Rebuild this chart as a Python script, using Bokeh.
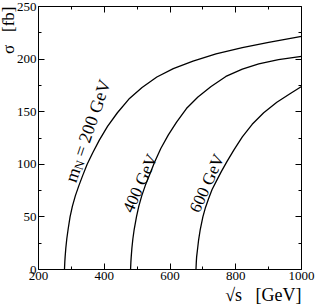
from bokeh.plotting import figure
from bokeh.models import Range1d, FixedTicker, LinearAxis, Label, Title, CustomJSTickFormatter
from bokeh.embed import file_html
from bokeh.resources import INLINE
import math

# sqrt(s) [GeV] and cross-section sigma [fb]
s_200 = [279, 280, 281, 283, 286, 290, 296, 303, 312, 322, 334, 348, 365, 385, 410, 440, 475, 515, 560, 610, 670, 740, 820, 900, 1000]
sig_200 = [0, 7, 12, 20, 29, 38, 50, 60, 70, 79, 89, 100, 111, 123, 136, 149, 162, 173, 183, 191, 198, 205, 211, 216, 221.5]

s_400 = [480, 481, 482, 484, 487, 491, 498, 505, 514, 525, 538, 553, 572, 595, 620, 650, 685, 725, 770, 820, 870, 930, 1000]
sig_400 = [0, 7, 12, 20, 29, 38, 50, 60, 70, 80, 90, 102, 115, 128, 140, 153, 164, 174, 183.5, 190.5, 195.5, 199.5, 202.5]

s_600 = [679, 680, 681, 684, 687, 692, 700, 708, 717, 728, 741, 756, 774, 795, 820, 850, 885, 925, 965, 1000]
sig_600 = [0, 7, 12, 20, 28, 38, 50, 59, 67, 76, 84, 93, 103, 114, 126, 138, 149, 159, 167, 174]

x_ticks = [200, 400, 600, 800, 1000]
x_minor = [300, 500, 700, 900]
y_ticks = [0, 50, 100, 150, 200, 250]
y_minor = [25, 75, 125, 175, 225]

FONT = "Liberation Serif"
NB = "\u00a0"

p = figure(width=316, height=306, output_backend="svg", toolbar_location=None,
           x_range=Range1d(200, 1000), y_range=Range1d(0, 250),
           min_border_left=38, min_border_right=15, min_border_top=6, min_border_bottom=37,
           background_fill_color="white", border_fill_color="white")
p.outline_line_color = None
p.grid.visible = False

def style_axis(ax, ticks, minor, labels=True):
    ax.ticker = FixedTicker(ticks=ticks, minor_ticks=minor)
    ax.major_tick_in = 6
    ax.major_tick_out = 0
    ax.minor_tick_in = 3
    ax.minor_tick_out = 0
    ax.axis_line_color = "black"
    ax.axis_line_width = 1
    ax.major_tick_line_color = "black"
    ax.minor_tick_line_color = "black"
    ax.major_label_text_font = FONT
    ax.major_label_text_font_size = "13px"
    ax.major_label_text_color = "black"
    ax.major_label_standoff = 2
    if not labels:
        ax.formatter = CustomJSTickFormatter(code="return ''")
        ax.major_label_standoff = 0

style_axis(p.xaxis[0], x_ticks, x_minor)
style_axis(p.yaxis[0], y_ticks, y_minor)

top = LinearAxis()
style_axis(top, x_ticks, x_minor, labels=False)
p.add_layout(top, "above")
right = LinearAxis()
style_axis(right, y_ticks, y_minor, labels=False)
p.add_layout(right, "right")

# axis titles
p.add_layout(Title(text="\u221as" + NB * 3 + "[GeV]", align="right", standoff=0,
                   text_font=FONT, text_font_size="18px", text_font_style="normal",
                   text_color="black"), "below")
p.add_layout(Title(text="\u03c3" + NB * 3 + "[fb]", align="right", standoff=-8,
                   text_font=FONT, text_font_size="17px", text_font_style="normal",
                   text_color="black"), "left")

for xs, ys in [(s_200, sig_200), (s_400, sig_400), (s_600, sig_600)]:
    p.line(xs, ys, line_color="black", line_width=1.3)

def lab(x, y, text, size, angle=0, xo=0, yo=0):
    p.add_layout(Label(x=x, y=y, text=text, text_font=FONT, text_font_size=size,
                       text_color="black", angle=angle, angle_units="deg",
                       x_offset=xo, y_offset=yo, text_align="left", text_baseline="alphabetic"))

# curve labels
th = 71
c, s_ = math.cos(math.radians(th)), math.sin(math.radians(th))
lab(297, 83.7, "m", "18px", th)
lab(297, 83.7, "N", "12.5px", th, xo=14 * c + 3.5 * s_, yo=14 * s_ - 3.5 * c)
lab(297, 83.7, "= 200 GeV", "18px", th, xo=27 * c, yo=27 * s_)
lab(471, 55.2, "400 GeV", "17px", 66)
lab(674, 55.2, "600 GeV", "17px", 66)

open("out.html", "w").write(file_html(p, INLINE))
